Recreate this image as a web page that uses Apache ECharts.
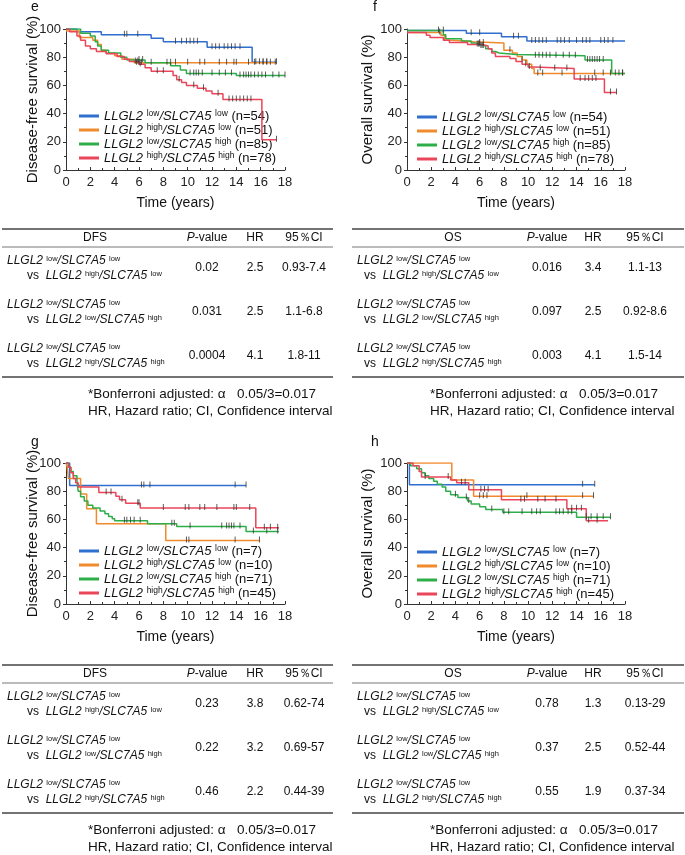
<!DOCTYPE html>
<html><head><meta charset="utf-8">
<script src="https://cdn.jsdelivr.net/npm/echarts@6/dist/echarts.min.js"></script>
<style>html,body{margin:0;padding:0;background:#fff}#c{width:685px;height:855px}</style>
</head><body><div id="c"></div>
<script>
// ================= DATA =================
// Kaplan-Meier curves: [time (years), survival (%)]
const eBlue   = [[0,100],[0.9,98],[2.9,96],[7.0,93.5],[8.0,91],[11.6,87],[15.3,76.5],[17.3,76.5]];
const eOrange = [[0,98.5],[1.1,94],[2.2,92],[2.6,89],[2.9,85],[3.3,83],[4.0,81],[4.6,78.5],[5.6,76],[17.2,76]];
const eGreen  = [[0,100],[1.2,97],[2.0,95],[2.4,91],[2.6,88],[2.9,85],[3.5,83],[4.5,80],[5.0,78],[6.5,76],[8.6,74],[9.4,71],[9.9,68.5],[14.0,67],[18,67]];
const eRed    = [[0,100],[0.3,98],[0.9,95],[1.2,92],[1.6,88],[2.0,86],[2.5,84],[3.3,82.5],[4.2,80.5],[4.8,78.5],[5.2,77],[6.0,75],[6.5,72.5],[7.0,70],[8.8,67],[9.1,64],[9.5,62],[9.9,60],[10.8,58],[11.5,56],[12.0,54],[12.9,50],[16.1,21.5],[17.3,21.5]];

const fBlue   = [[0,99],[4.9,97],[7.8,94.5],[9.9,91.5],[18,91.5]];
const fOrange = [[0,97.5],[2.8,95.5],[3.1,92],[3.7,91],[5.5,90],[8.0,85],[8.7,83],[9.1,80.5],[9.5,78],[9.9,75],[10.3,72],[10.5,68.5],[18,68.5]];
const fGreen  = [[0,99],[3.0,96],[3.2,93],[4.5,91.5],[5.3,90],[5.7,89],[6.0,88],[6.5,86],[7.0,84],[7.3,83],[7.6,82],[9.0,81],[14.7,78],[16.9,68.5],[18,68.5]];
const fRed    = [[0,97.5],[1.6,95.5],[1.9,94],[3.0,92],[3.5,90.5],[5.0,89],[6.2,88],[6.7,86],[7.0,83],[7.3,80.5],[8.5,79],[9.0,77],[9.5,75],[10.0,73],[10.5,72],[13.8,64.5],[16.3,55],[17.3,55]];

const gBlue   = [[0,100],[0.3,84],[14.8,84]];
const gOrange = [[0,100],[0.1,97],[0.2,89],[1.2,78],[1.7,67.5],[2.5,57],[8.2,45],[15.9,45]];
const gGreen  = [[0,100],[0.2,97],[0.4,94],[0.6,91],[0.9,87],[1.0,80],[1.2,76],[1.5,73],[1.8,70],[2.2,68],[2.8,66],[3.2,64],[3.5,62],[3.8,60.5],[4.0,59],[6.7,57],[9.1,55],[14.8,51.5],[17.5,51.5]];
const gRed    = [[0,100],[0.2,97],[0.4,93],[0.6,89],[0.8,86],[1.0,83],[2.7,79],[4.1,76.5],[4.4,74],[4.9,71.5],[6.1,68],[15.6,54],[17.5,54]];

const hBlue   = [[0,100],[0.2,84.5],[15.5,84.5]];
const hOrange = [[0,100],[3.7,88],[5.5,76.5],[15.4,76.5]];
const hGreen  = [[0,100],[0.3,98],[0.8,96],[1.2,93],[1.5,91],[1.8,89],[2.2,87],[2.5,85],[2.9,83],[3.2,80],[3.6,77.5],[4.2,75.5],[5.0,73],[5.3,71],[6.0,69],[6.5,67],[7.9,65],[14.0,61.5],[16.8,61.5]];
const hRed    = [[0,100],[0.5,98],[1.0,94],[1.2,90],[3.6,88],[4.1,86],[5.1,81],[7.8,74],[13.2,67.5],[14.8,59],[16.6,59]];

// Censoring times (years)
const eBlueCens   = [4.8,5.0,5.9,9.0,9.5,9.9,10.2,10.5,10.8,12.0,12.3,12.6,13.0,13.3,13.6,13.9,14.3,15.6,15.9,16.2,16.5,17.3];
const eOrangeCens = [5.8,6.0,6.2,7.0,8.6,9.0,10.0,11.0,11.4,12.6,13.2,13.8,14.0,15.0,15.5,16.2,16.5,16.8,17.2];
const eGreenCens  = [6.0,6.3,8.3,10.2,10.5,10.7,10.9,11.2,12.0,12.6,13.1,13.6,14.3,14.6,14.8,15.0,15.2,15.5,15.8,16.1,16.4,17.0,17.5,18.0];
const eRedCens    = [5.7,5.9,6.1,7.5,8.0,9.3,10.5,11.3,12.5,13.4,13.7,14.0,14.3,14.6,14.9,15.2,17.3];

const fBlueCens   = [2.6,3.0,5.3,6.0,8.8,9.2,10.3,10.6,10.9,11.2,11.5,12.4,12.7,13.0,13.4,14.0,14.5,14.8,15.1,16.0,16.3,16.6,17.0];
const fOrangeCens = [2.7,6.0,6.3,8.5,9.5,10.8,11.2,12.8,15.5,16.2,16.8,17.8];
const fGreenCens  = [5.9,6.1,6.3,10.6,10.9,11.2,11.5,11.8,12.3,12.9,13.4,13.9,14.9,15.1,15.3,15.5,15.7,15.9,16.2,17.2,17.5,17.8];
const fRedCens    = [5.8,6.0,6.2,9.8,10.1,11.0,12.2,13.2,14.3,14.7,15.0,15.3,15.6,16.8,17.3];

const gBlueCens   = [6.2,6.4,6.9,13.9,14.8];
const gOrangeCens = [9.9,10.1,13.9,15.9];
const gGreenCens  = [4.8,5.0,5.3,5.6,6.1,8.7,8.9,10.2,12.8,13.2,13.4,13.6,13.8,14.3,15.4,16.5,17.4];
const gRedCens    = [3.3,3.7,4.6,5.9,6.0,8.0,9.8,10.1,11.0,11.4,12.4,13.8,14.0,15.1,16.3,16.8,17.4];

const hBlueCens   = [14.5,15.5];
const hOrangeCens = [6.0,6.3,6.6,9.9,14.5,15.4];
const hGreenCens  = [4.0,4.9,5.1,7.0,8.0,8.4,9.5,10.3,10.7,11.0,12.3,12.6,12.9,13.3,13.6,14.8,15.2,15.7,16.2,16.8];
const hRedCens    = [1.5,3.4,4.5,4.8,6.1,6.4,6.7,9.4,9.7,10.8,11.4,12.3,13.6,14.0,14.4,15.0,15.7];

// Legend groups (LLGL2 level, SLC7A5 level) and group sizes
const groupLevels = [['low','low'],['high','low'],['low','high'],['high','high']];
const nCohort1 = [54,51,85,78];
const nCohort2 = [7,10,71,45];

// Axis ticks
const xTicks = {min:0, max:18, interval:2};
const yTicks = {min:0, max:100, interval:20};

// Tables
const compareTo = [['high','low'],['low','high'],['high','high']];
const tableHeads = ['P-value','HR','95％CI'];
const dfs1P = ['0.02','0.031','0.0004'];  const dfs1HR = ['2.5','2.5','4.1'];  const dfs1CI = ['0.93-7.4','1.1-6.8','1.8-11'];
const os1P  = ['0.016','0.097','0.003'];  const os1HR  = ['3.4','2.5','4.1'];  const os1CI  = ['1.1-13','0.92-8.6','1.5-14'];
const dfs2P = ['0.23','0.22','0.46'];     const dfs2HR = ['3.8','3.2','2.2'];  const dfs2CI = ['0.62-74','0.69-57','0.44-39'];
const os2P  = ['0.78','0.37','0.55'];     const os2HR  = ['1.3','2.5','1.9'];  const os2CI  = ['0.13-29','0.52-44','0.37-34'];
const footnotes = ['*Bonferroni adjusted: α   0.05/3=0.017','HR, Hazard ratio; CI, Confidence interval'];

// ================= BUILD =================
const FONT = '"Liberation Sans", Arial, Helvetica, sans-serif';
const colors = ['#2e6fcf','#f08a2c','#2eae48','#ea4558'];

function valueAt(curve, t) {
  let v = curve[0][1];
  for (const p of curve) { if (p[0] <= t) v = p[1]; else break; }
  return v;
}

const panels = [
  {id:'e', curves:[eBlue,eOrange,eGreen,eRed], cens:[eBlueCens,eOrangeCens,eGreenCens,eRedCens], n:nCohort1,
   yName:'Disease-free survival (%)', nameGap:26, grid:{left:66,top:29,width:219,height:141}, lg:{left:79,top:109}, letter:[35,7]},
  {id:'f', curves:[fBlue,fOrange,fGreen,fRed], cens:[fBlueCens,fOrangeCens,fGreenCens,fRedCens], n:nCohort1,
   yName:'Overall survival (%)', nameGap:32, grid:{left:407,top:29,width:218,height:141}, lg:{left:417,top:110}, letter:[375,7]},
  {id:'g', curves:[gBlue,gOrange,gGreen,gRed], cens:[gBlueCens,gOrangeCens,gGreenCens,gRedCens], n:nCohort2,
   yName:'Disease-free survival (%)', nameGap:26, grid:{left:66,top:463,width:219,height:141}, lg:{left:79,top:544}, letter:[35,442]},
  {id:'h', curves:[hBlue,hOrange,hGreen,hRed], cens:[hBlueCens,hOrangeCens,hGreenCens,hRedCens], n:nCohort2,
   yName:'Overall survival (%)', nameGap:32, grid:{left:407,top:463,width:218,height:141}, lg:{left:417,top:545}, letter:[375,442]}
];

const richLegend = {
  it:{fontStyle:'italic', fontSize:13, lineHeight:14, color:'#111', fontFamily:FONT},
  sup:{fontSize:8.5, lineHeight:9, verticalAlign:'top', color:'#111', fontFamily:FONT},
  n:{fontSize:13, lineHeight:14, color:'#111', fontFamily:FONT}
};

const grids = [], xAxes = [], yAxes = [], series = [], legends = [], graphics = [];
panels.forEach((p, gi) => {
  grids.push(p.grid);
  xAxes.push({
    type:'value', gridIndex:gi, min:xTicks.min, max:xTicks.max, interval:xTicks.interval,
    axisLine:{show:true, onZero:false, lineStyle:{color:'#333', width:1}},
    axisTick:{show:true, inside:true, length:3, lineStyle:{color:'#333'}},
    minorTick:{show:true, splitNumber:2, length:2, lineStyle:{color:'#333'}},
    splitLine:{show:false}, minorSplitLine:{show:false},
    axisLabel:{fontSize:13, color:'#222', margin:6, fontFamily:FONT},
    name:'Time (years)', nameLocation:'middle', nameGap:26,
    nameTextStyle:{fontSize:14, color:'#111', fontFamily:FONT}
  });
  yAxes.push({
    type:'value', gridIndex:gi, min:yTicks.min, max:yTicks.max, interval:yTicks.interval,
    axisLine:{show:true, onZero:false, lineStyle:{color:'#333', width:1}},
    axisTick:{show:true, inside:false, length:3, lineStyle:{color:'#333'}},
    minorTick:{show:true, splitNumber:2, length:2, lineStyle:{color:'#333'}},
    splitLine:{show:false}, minorSplitLine:{show:false},
    axisLabel:{fontSize:13, color:'#222', margin:5, fontFamily:FONT},
    name:p.yName, nameLocation:'middle', nameGap:p.nameGap, nameMoveOverlap:false,
    nameTextStyle:{fontSize:15, color:'#111', fontFamily:FONT}
  });
  const names = [];
  p.curves.forEach((c, k) => {
    const nm = p.id + k;
    names.push(nm);
    series.push({
      type:'line', name:nm, xAxisIndex:gi, yAxisIndex:gi, data:c, step:'end',
      symbol:'none', showSymbol:false, color:colors[k], lineStyle:{width:1.5, color:colors[k]},
      z:2+k, silent:true
    });
  });
  p.cens.forEach((ts, k) => {
    series.push({
      type:'scatter', xAxisIndex:gi, yAxisIndex:gi,
      data: ts.map(t => [t, valueAt(p.curves[k], t)]),
      symbol:'rect', symbolSize:[1,6], symbolOffset:[0,-1],
      itemStyle:{color:'#333'}, z:8, silent:true
    });
  });
  legends.push({
    left:p.lg.left, top:p.lg.top, orient:'vertical', padding:0, itemGap:0,
    itemWidth:20, itemHeight:3, icon:'rect', selectedMode:false,
    data:names,
    formatter:(name) => {
      const k = +name.slice(1);
      const lv = groupLevels[k];
      return `{it|LLGL2} {sup|${lv[0]}}{it|/SLC7A5} {sup|${lv[1]}}{n| (n=${p.n[k]})}`;
    },
    textStyle:{fontSize:13, lineHeight:14, color:'#111', fontFamily:FONT, rich:richLegend}
  });
  graphics.push({type:'text', x:p.letter[0], y:p.letter[1],
    style:{text:p.id, fontSize:14, fill:'#111', fontFamily:FONT, align:'center', verticalAlign:'middle'}});
});

const richTable = {
  it:{fontStyle:'italic', fontSize:12, lineHeight:13, fill:'#111', fontFamily:FONT},
  sup:{fontSize:7.5, lineHeight:8, verticalAlign:'top', fill:'#111', fontFamily:FONT},
  r:{fontSize:12, lineHeight:13, fill:'#111', fontFamily:FONT}
};

function addTable(cfg) {
  const T = cfg.top, txt = (x, y, text, align, rich, size) => graphics.push({type:'text', x, y,
    style:{text, fontSize:size||12, fill:'#111', fontFamily:FONT, align:align||'center', verticalAlign:'middle', rich:rich||undefined}});
  const line = (y, w, c) => graphics.push({type:'line', shape:{x1:cfg.x0, y1:y, x2:cfg.x1, y2:y}, style:{stroke:c, lineWidth:w}});
  line(T, 1.5, '#444');
  line(T + 18, 1, '#777');
  line(T + 148, 1.5, '#444');
  txt(cfg.cols[0], T + 9, cfg.title);
  txt(cfg.cols[1], T + 9, '{it|P}{r|-value}', 'center', richTable);
  txt(cfg.cols[2], T + 9, tableHeads[1]);
  txt(cfg.cols[3], T + 9, tableHeads[2]);
  const rowY = [39, 83, 127];
  for (let i = 0; i < 3; i++) {
    const y = T + rowY[i];
    const cmp = compareTo[i];
    txt(cfg.labelX, y - 7, '{it|LLGL2} {sup|low}{it|/SLC7A5} {sup|low}', 'left', richTable);
    txt(cfg.vsX, y + 8, `{r|vs}  {it|LLGL2} {sup|${cmp[0]}}{it|/SLC7A5} {sup|${cmp[1]}}`, 'left', richTable);
    txt(cfg.cols[1], y, cfg.p[i]);
    txt(cfg.cols[2], y, cfg.hr[i]);
    txt(cfg.cols[3], y, cfg.ci[i]);
  }
  txt(cfg.footX, T + 165, footnotes[0], 'left', null, 13.5);
  txt(cfg.footX, T + 182, footnotes[1], 'left', null, 13.5);
}

addTable({top:229, x0:2, x1:333, cols:[95,207,255,304], labelX:7, vsX:27, footX:88, title:'DFS', p:dfs1P, hr:dfs1HR, ci:dfs1CI});
addTable({top:229, x0:352, x1:684, cols:[453,547,593,645], labelX:357, vsX:364, footX:430, title:'OS', p:os1P, hr:os1HR, ci:os1CI});
addTable({top:665, x0:2, x1:333, cols:[95,207,255,304], labelX:7, vsX:27, footX:88, title:'DFS', p:dfs2P, hr:dfs2HR, ci:dfs2CI});
addTable({top:665, x0:352, x1:684, cols:[453,547,593,645], labelX:357, vsX:364, footX:430, title:'OS', p:os2P, hr:os2HR, ci:os2CI});

const chart = echarts.init(document.getElementById('c'), null, {renderer:'canvas'});
chart.setOption({
  animation:false,
  backgroundColor:'#fff',
  textStyle:{fontFamily:FONT},
  grid:grids, xAxis:xAxes, yAxis:yAxes, series, legend:legends,
  graphic:{elements:graphics}
});
</script></body></html>
